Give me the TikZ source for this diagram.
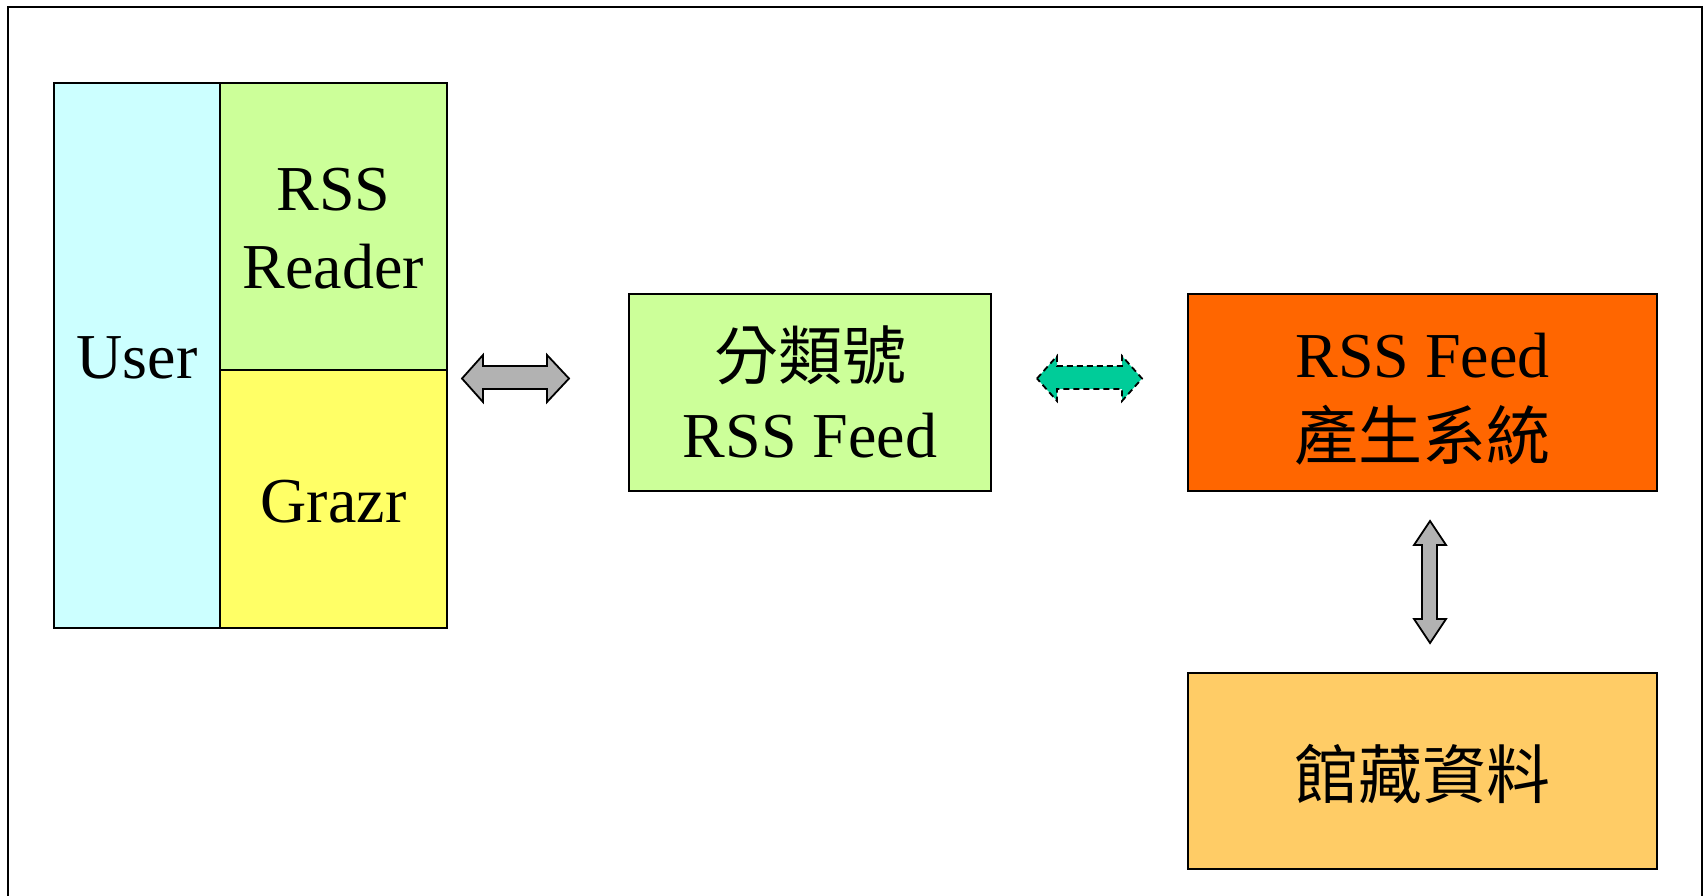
\documentclass[tikz,border=0pt]{standalone}
\usepackage{fontspec}
\setmainfont{Liberation Serif}
\newfontfamily\cjk{Noto Sans CJK TC}
\definecolor{ucyan}{HTML}{CCFFFF}
\definecolor{lgreen}{HTML}{CCFF99}
\definecolor{lyellow}{HTML}{FFFF66}
\definecolor{orng}{HTML}{FF6600}
\definecolor{lorng}{HTML}{FFCC66}
\definecolor{agray}{HTML}{B2B2B2}
\definecolor{agreen}{HTML}{00CC99}
\begin{document}
\begin{tikzpicture}[x=0.5pt,y=-0.5pt,
  boxs/.style={draw=black,line width=1pt},
  lbl/.style={font=\fontsize{32}{39}\selectfont,align=center,inner sep=0pt},
  blk/.style={draw=black,line width=0.9pt,line join=miter}]
\useasboundingbox (0,0) rectangle (1706,895);
\draw[line width=0.9pt] (8,900) -- (8,7) -- (1702,7) -- (1702,900);
% left group
\draw[boxs,fill=ucyan] (54,83) rectangle (220,628);
\draw[boxs,fill=lgreen] (220,83) rectangle (447,370);
\draw[boxs,fill=lyellow] (220,370) rectangle (447,628);
\node[lbl] (user) at (137,358) {User};
\node[lbl] (reader) at (333.5,229) {RSS\\Reader};
\node[lbl] (grazr) at (333.5,502) {Grazr};
% middle
\draw[boxs,fill=lgreen] (629,294) rectangle (991,491);
\node[lbl] (mid) at (810,392) {{\cjk 分類號}\\RSS Feed};
% right
\draw[boxs,fill=orng] (1188,294) rectangle (1657,491);
\node[lbl] (gen) at (1422.5,399) {RSS Feed\\[2pt]{\cjk 產生系統}};
\draw[boxs,fill=lorng] (1188,673) rectangle (1657,869);
\node[lbl] (lib) at (1422.5,774) {\cjk 館藏資料};
% arrows
\draw[blk,fill=agray] (462,378.5) -- (483,355) -- (483,366) -- (547,366) -- (547,355) -- (569,378.5)
  -- (547,402) -- (547,389) -- (483,389) -- (483,402) -- cycle;
\draw[blk,fill=agreen,dashed,dash pattern=on 3pt off 2pt] (1037,378.5) -- (1057,356) -- (1057,366) -- (1122,366) -- (1122,356) -- (1142,378.5)
  -- (1122,401) -- (1122,389) -- (1057,389) -- (1057,401) -- cycle;
\draw[blk,fill=agray] (1430,521) -- (1446,545) -- (1437,545) -- (1437,619) -- (1446,619) -- (1430,643)
  -- (1414,619) -- (1422,619) -- (1422,545) -- (1414,545) -- cycle;
\end{tikzpicture}
\end{document}
